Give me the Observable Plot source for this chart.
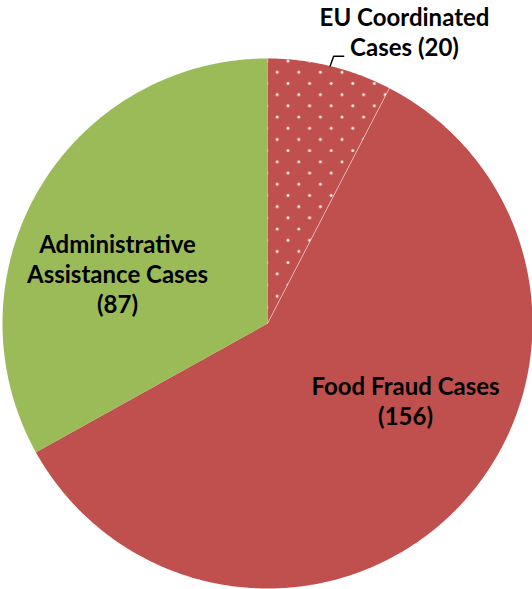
<!DOCTYPE html>
<html>
<head>
<meta charset="utf-8">
<script src="https://cdn.jsdelivr.net/npm/d3@7"></script>
<script src="https://cdn.jsdelivr.net/npm/@observablehq/plot@0.6"></script>
<style>
  html, body { margin: 0; padding: 0; background: #fff; }
  #chart svg { display: block; }
</style>
</head>
<body>
<div id="chart"></div>
<script>
const categories = ["EU Coordinated Cases", "Food Fraud Cases", "Administrative Assistance Cases"];
const values = [20, 156, 87];
const labels = ["EU Coordinated\nCases (20)", "Food Fraud Cases\n(156)", "Administrative\nAssistance Cases\n(87)"];
const colors = ["#C0504D", "#C0504D", "#9BBB59"];

// layout (not data): label anchor positions in unit-circle coords
const labelPos = [[0.517, 1.102], [0.521, -0.29], [-0.566, 0.189]];

const arcs = d3.pie().sort(null).value(d => d)(values);

function slicePoints(a, i) {
  const pts = [{x: 0, y: 0, i}];
  const n = Math.max(8, Math.ceil((a.endAngle - a.startAngle) / 0.01));
  for (let k = 0; k <= n; k++) {
    const t = a.startAngle + (a.endAngle - a.startAngle) * k / n;
    pts.push({x: Math.sin(t), y: Math.cos(t), i});
  }
  pts.push({x: 0, y: 0, i});
  return pts;
}

const slices = arcs.map((a, i) => slicePoints(a, i));
const eu = arcs[0];
const mid = (eu.startAngle + eu.endAngle) / 2;
const leader = [
  {x: Math.sin(mid), y: Math.cos(mid)},
  {x: Math.sin(mid) + 0.013, y: Math.cos(mid) + 0.037},
  {x: Math.sin(mid) + 0.051, y: Math.cos(mid) + 0.037}
];

const labelData = labels.map((t, i) => ({text: t, x: labelPos[i][0], y: labelPos[i][1]}));
const euEdge = [slices[0][slices[0].length - 2], {x: 0, y: 0}];

const marks = [];
slices.forEach((pts, i) => {
  marks.push(Plot.line(pts, {x: "x", y: "y", fill: colors[i], stroke: "none", curve: "linear-closed"}));
});
marks.push(Plot.line(slices[0], {x: "x", y: "y", fill: "url(#dots)", stroke: "none", curve: "linear-closed"}));
marks.push(Plot.line(euEdge, {x: "x", y: "y", stroke: "#ffffff", strokeOpacity: 0.6, strokeWidth: 0.8}));
marks.push(Plot.line(leader, {x: "x", y: "y", stroke: "#000", strokeWidth: 1.4}));
marks.push(Plot.text(labelData, {x: "x", y: "y", text: "text", fontSize: 24, fontWeight: "bold", fill: "#000", lineHeight: 1.25, textAnchor: "middle"}));

const plot = Plot.plot({
  width: 532,
  height: 589,
  marginLeft: 2,
  marginRight: 0,
  marginTop: 58,
  marginBottom: 1,
  x: {domain: [-1, 1], axis: null},
  y: {domain: [-1, 1], axis: null},
  style: {fontFamily: "Lato, 'Open Sans', sans-serif", background: "#fff"},
  marks
});

const ns = "http://www.w3.org/2000/svg";
const defs = document.createElementNS(ns, "defs");
const pat = document.createElementNS(ns, "pattern");
pat.setAttribute("id", "dots");
pat.setAttribute("patternUnits", "userSpaceOnUse");
pat.setAttribute("width", "21.6");
pat.setAttribute("height", "22.4");
pat.setAttribute("patternTransform", "translate(276.7,71.7)");
[[0, 0], [10.8, 11.2], [21.6, 0], [0, 22.4], [21.6, 22.4]].forEach(([cx, cy]) => {
  const c = document.createElementNS(ns, "circle");
  c.setAttribute("cx", cx);
  c.setAttribute("cy", cy);
  c.setAttribute("r", "1.5");
  c.setAttribute("fill", "#ffffff");
  c.setAttribute("fill-opacity", "0.9");
  pat.appendChild(c);
});
defs.appendChild(pat);
plot.insertBefore(defs, plot.firstChild);
document.getElementById("chart").appendChild(plot);
</script>
</body>
</html>
